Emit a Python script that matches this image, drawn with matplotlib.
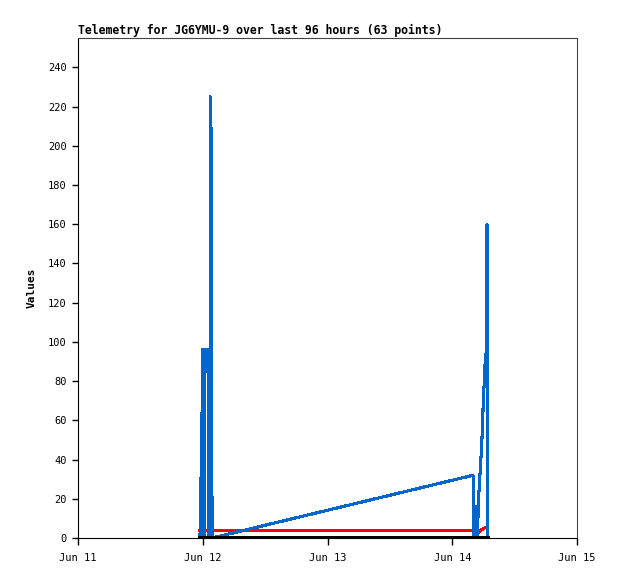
import pandas as pd
import matplotlib
matplotlib.use("Agg")
import matplotlib.pyplot as plt
import matplotlib.dates as mdates

# Telemetry samples (times)
times = [
    "2023-06-11 23:28", "2023-06-11 23:32", "2023-06-11 23:35", "2023-06-11 23:40",
    "2023-06-11 23:44", "2023-06-11 23:49", "2023-06-11 23:54", "2023-06-11 23:58",
    "2023-06-12 00:03", "2023-06-12 00:07", "2023-06-12 00:14", "2023-06-12 00:20",
    "2023-06-12 00:26", "2023-06-12 00:40", "2023-06-12 00:44", "2023-06-12 00:51",
    "2023-06-12 01:08", "2023-06-12 01:12", "2023-06-12 01:26", "2023-06-12 01:29",
    "2023-06-12 01:41", "2023-06-12 01:47",
    "2023-06-14 04:00", "2023-06-14 04:05", "2023-06-14 04:11", "2023-06-14 04:19",
    "2023-06-14 04:27", "2023-06-14 04:35", "2023-06-14 04:43", "2023-06-14 04:51",
    "2023-06-14 05:00", "2023-06-14 05:11", "2023-06-14 05:28", "2023-06-14 05:40",
    "2023-06-14 05:51", "2023-06-14 05:58", "2023-06-14 06:10", "2023-06-14 06:21",
    "2023-06-14 06:35", "2023-06-14 06:41", "2023-06-14 06:48",
]
blue_vals = [
    0, 13, 0, 31, 0, 55, 71, 96, 0, 96, 80, 0, 96, 96, 85, 96, 96, 0, 0, 225, 193, 0,
    32, 0, 16, 0, 16, 0, 16, 0, 16, 26, 38, 48, 59, 70, 80, 91, 96, 160, 0,
]
red_vals = [4.0] * 22 + [4.0, 3.8, 3.5, 3.2, 2.9, 2.6, 2.5, 2.5, 2.6, 3.2, 3.8, 4.2,
                         4.6, 4.9, 5.1, 5.2, 5.3, 5.0, 5.0]
black_vals = [0] * len(times)

yticks = list(range(0, 241, 20))
xstart, xend = "2023-06-11", "2023-06-15"

t = pd.to_datetime(times)

fig = plt.figure(figsize=(6.18, 5.79), dpi=100)
ax = fig.add_axes([78 / 618, 41 / 579, 499 / 618, 500 / 579])

ax.plot(t, red_vals, color="#ff0000", lw=1.5, antialiased=False, zorder=2)
ax.plot(t, blue_vals, color="#0066cc", lw=1.5, antialiased=False, zorder=3)
ax.plot(t, black_vals, color="#000000", lw=1.5, antialiased=False, zorder=4)

ax.set_xlim(pd.Timestamp(xstart), pd.Timestamp(xend))
ax.set_ylim(0, 255)
ax.set_yticks(yticks)
ax.xaxis.set_major_locator(mdates.DayLocator())
ax.xaxis.set_major_formatter(mdates.DateFormatter("%b %d"))

for lab in ax.get_xticklabels() + ax.get_yticklabels():
    lab.set_family("DejaVu Sans Mono")
    lab.set_fontsize(7.5)
ax.tick_params(axis="x", direction="out", length=5, width=1, pad=6)
ax.tick_params(axis="y", direction="out", length=4, width=1, pad=4)

for side in ["left", "bottom"]:
    ax.spines[side].set_color("black")
for side in ["top", "right"]:
    ax.spines[side].set_color("#444444")

ax.set_ylabel("Values", family="DejaVu Sans Mono", fontweight="bold", fontsize=8, labelpad=8)
ax.set_title("Telemetry for JG6YMU-9 over last 96 hours (63 points)", loc="left",
             family="DejaVu Sans Mono", fontweight="bold", fontsize=8.3, pad=3)

fig.savefig("out.png", dpi=100)
